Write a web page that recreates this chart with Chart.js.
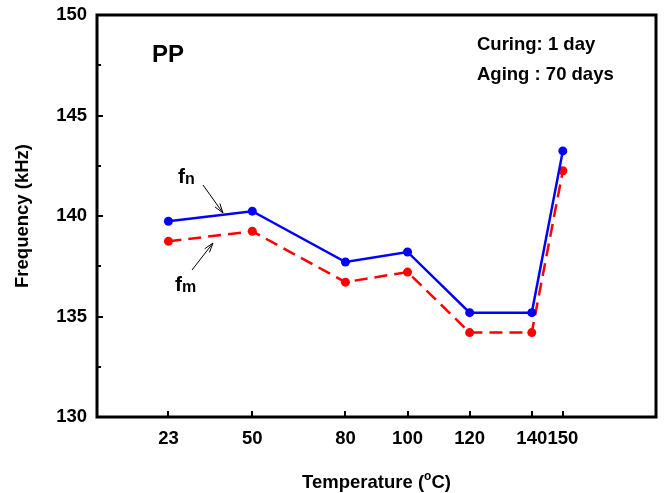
<!DOCTYPE html>
<html>
<head>
<meta charset="utf-8">
<script src="https://cdn.jsdelivr.net/npm/chart.js@4.4.1/dist/chart.umd.min.js"></script>
<style>
  html, body { margin: 0; padding: 0; background: #fff; }
  #wrap { width: 664px; height: 493px; }
</style>
</head>
<body>
<div id="wrap"><canvas id="chart" width="664" height="493"></canvas></div>
<script>
const temps = [23, 50, 80, 100, 120, 140, 150];
const fn = [139.74, 140.24, 137.71, 138.21, 135.19, 135.19, 143.24];
const fm = [138.74, 139.24, 136.71, 137.21, 134.2, 134.2, 142.25];
const xTicks = [23, 50, 80, 100, 120, 140, 150];
const yMinor = [132.5, 137.5, 142.5, 147.5];

const FONT = '"Liberation Sans", Arial, sans-serif';

const toPts = (xs, ys) => xs.map((x, i) => ({x, y: ys[i]}));

// frame, inward ticks, annotations and axis titles
const decor = {
  id: 'decor',
  afterDraw(chart) {
    const ctx = chart.ctx;
    const a = chart.chartArea;
    const xs = chart.scales.x, ys = chart.scales.y;
    ctx.save();
    ctx.strokeStyle = '#000';
    ctx.lineWidth = 3;
    ctx.strokeRect(a.left, a.top, a.right - a.left, a.bottom - a.top);

    ctx.lineWidth = 2;
    ctx.beginPath();
    xTicks.forEach(v => {
      const px = Math.round(xs.getPixelForValue(v));
      ctx.moveTo(px, a.bottom); ctx.lineTo(px, a.bottom - 6);
    });
    ys.ticks.forEach(t => {
      const py = Math.round(ys.getPixelForValue(t.value));
      ctx.moveTo(a.left, py); ctx.lineTo(a.left + 6, py);
    });
    yMinor.forEach(v => {
      const py = Math.round(ys.getPixelForValue(v));
      ctx.moveTo(a.left, py); ctx.lineTo(a.left + 4, py);
    });
    ctx.stroke();

    ctx.fillStyle = '#000';
    ctx.textBaseline = 'alphabetic';
    ctx.textAlign = 'left';
    ctx.font = 'bold 24px ' + FONT;
    ctx.fillText('PP', 152, 62);
    ctx.font = 'bold 18.5px ' + FONT;
    ctx.fillText('Curing: 1 day', 477, 50);
    ctx.fillText('Aging : 70 days', 477, 80);

    // f_n and f_m labels
    const sub = (main, s, x, y) => {
      ctx.font = 'bold 21px ' + FONT;
      ctx.fillText(main, x, y);
      const w = ctx.measureText(main).width;
      ctx.font = 'bold 16px ' + FONT;
      ctx.fillText(s, x + w, y + 1);
    };
    sub('f', 'n', 178, 183);
    sub('f', 'm', 175, 291);

    const arrow = (x1, y1, x2, y2) => {
      ctx.lineWidth = 1;
      ctx.beginPath();
      ctx.moveTo(x1, y1); ctx.lineTo(x2, y2);
      const ang = Math.atan2(y2 - y1, x2 - x1);
      const L = 10, sp = 0.3;
      ctx.moveTo(x2, y2);
      ctx.lineTo(x2 - L * Math.cos(ang - sp), y2 - L * Math.sin(ang - sp));
      ctx.moveTo(x2, y2);
      ctx.lineTo(x2 - L * Math.cos(ang + sp), y2 - L * Math.sin(ang + sp));
      ctx.stroke();
    };
    arrow(203, 185, 223, 213);
    arrow(192, 270, 213, 243);

    // axis titles
    ctx.font = 'bold 18.5px ' + FONT;
    ctx.save();
    ctx.translate(23, (a.top + a.bottom) / 2);
    ctx.rotate(-Math.PI / 2);
    ctx.textAlign = 'center';
    ctx.textBaseline = 'middle';
    ctx.fillText('Frequency (kHz)', 0, 0);
    ctx.restore();

    const cx = (a.left + a.right) / 2;
    const p1 = 'Temperature (', p3 = 'C)';
    ctx.font = 'bold 18.5px ' + FONT;
    const w1 = ctx.measureText(p1).width, w3 = ctx.measureText(p3).width;
    ctx.font = 'bold 12px ' + FONT;
    const w2 = ctx.measureText('o').width;
    let x0 = cx - (w1 + w2 + w3) / 2;
    const by = 488;
    ctx.textAlign = 'left';
    ctx.font = 'bold 18.5px ' + FONT;
    ctx.fillText(p1, x0, by);
    ctx.font = 'bold 12px ' + FONT;
    ctx.fillText('o', x0 + w1, by - 8);
    ctx.font = 'bold 18.5px ' + FONT;
    ctx.fillText(p3, x0 + w1 + w2, by);
    ctx.restore();
  }
};

new Chart(document.getElementById('chart'), {
  type: 'line',
  data: {
    datasets: [
      {
        label: 'fn',
        data: toPts(temps, fn),
        borderColor: '#0000ff',
        backgroundColor: '#0000ff',
        borderWidth: 2.5,
        pointRadius: 4.5,
        pointBorderWidth: 0,
        tension: 0
      },
      {
        label: 'fm',
        data: toPts(temps, fm),
        borderColor: '#ff0000',
        backgroundColor: '#ff0000',
        borderWidth: 2.5,
        borderDash: [13, 7],
        pointRadius: 4.5,
        pointBorderWidth: 0,
        tension: 0
      }
    ]
  },
  options: {
    responsive: false,
    animation: false,
    layout: { padding: { top: 15, right: 8, left: 0, bottom: 0 } },
    plugins: {
      legend: { display: false },
      tooltip: { enabled: false }
    },
    scales: {
      x: {
        type: 'linear',
        min: 0,
        max: 180,
        afterBuildTicks: s => { s.ticks = xTicks.map(v => ({value: v})); },
        afterFit: s => { s.height = 76; s.paddingLeft = 0; s.paddingRight = 0; },
        grid: { display: false, drawTicks: false },
        border: { display: false },
        ticks: {
          autoSkip: false,
          maxRotation: 0,
          padding: 11,
          color: '#000',
          font: { family: FONT, size: 18.5, weight: 'bold' }
        }
      },
      y: {
        min: 130,
        max: 150,
        afterFit: s => { s.width = 97; s.paddingTop = 0; s.paddingBottom = 0; },
        grid: { display: false, drawTicks: false },
        border: { display: false },
        ticks: {
          stepSize: 5,
          padding: 10,
          color: '#000',
          font: { family: FONT, size: 18.5, weight: 'bold' }
        }
      }
    }
  },
  plugins: [decor]
});
</script>
</body>
</html>
